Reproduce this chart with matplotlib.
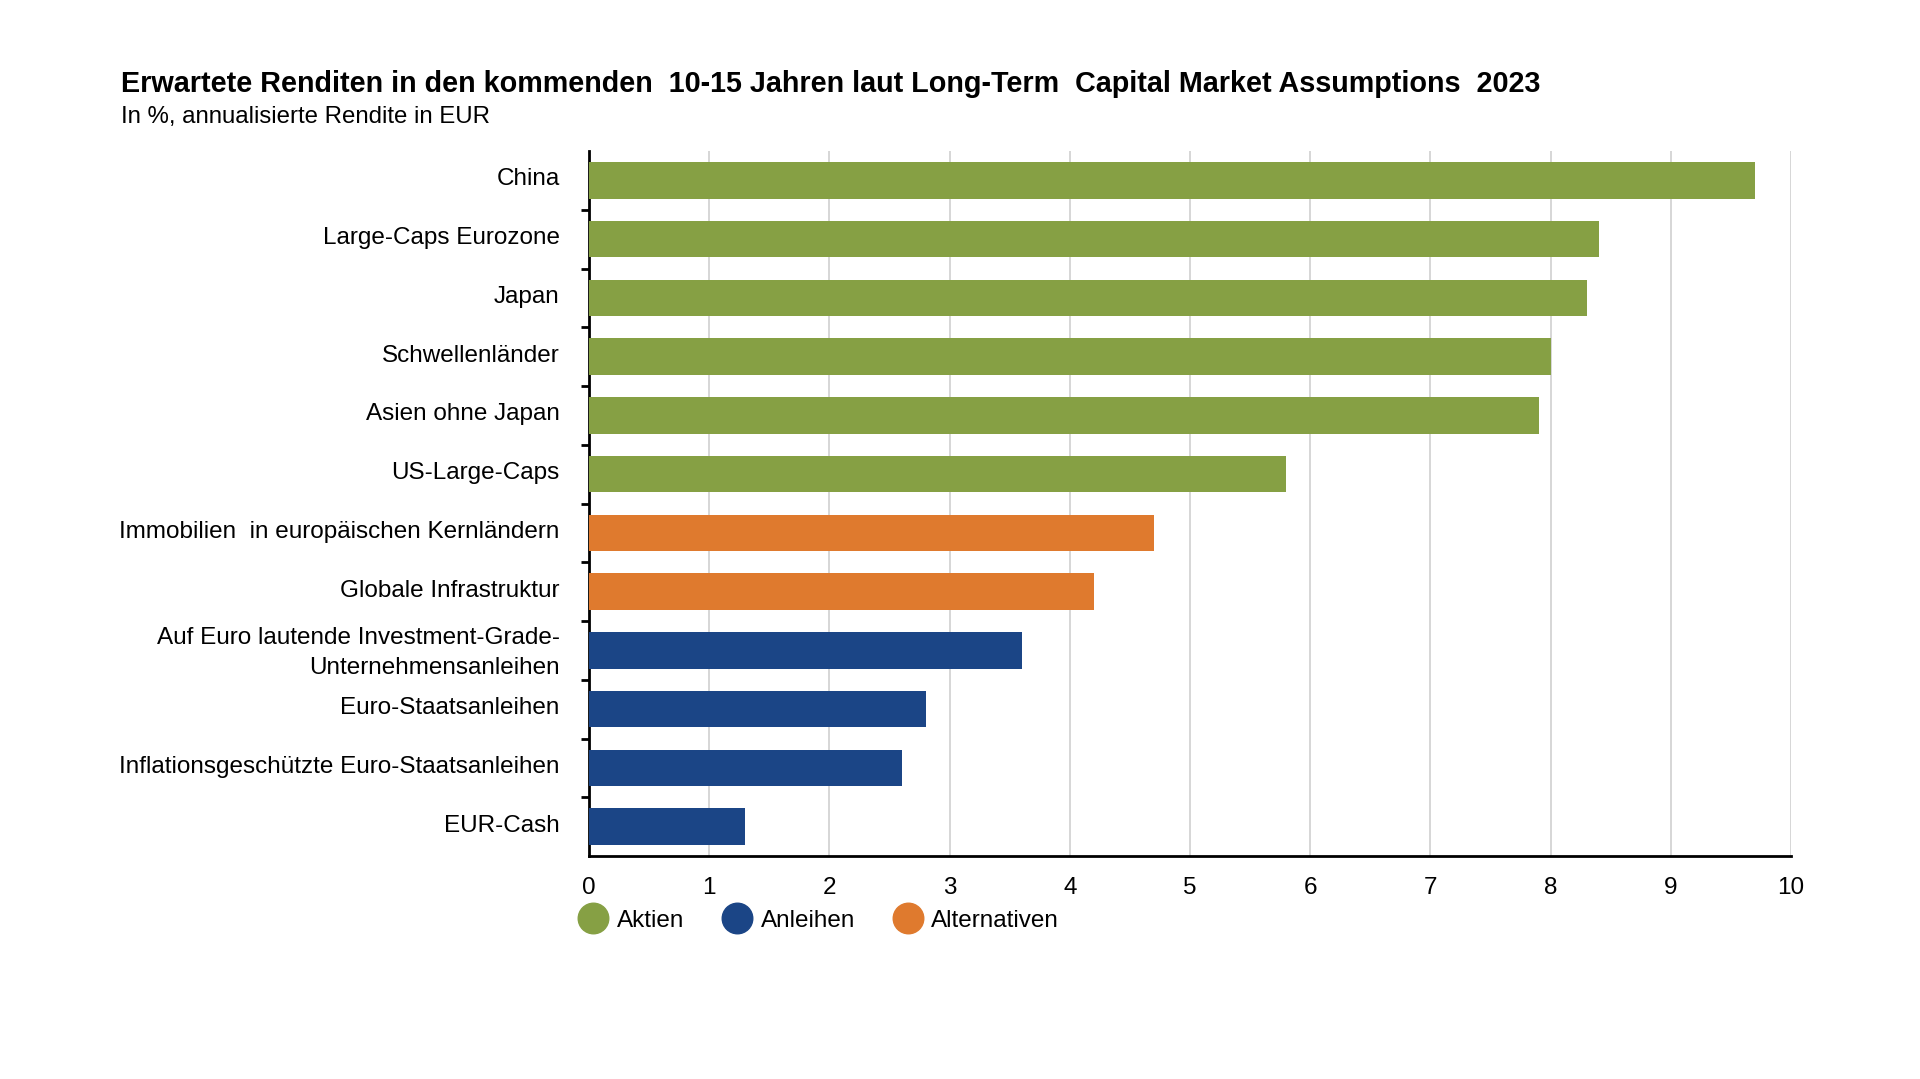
import matplotlib.pyplot as plt
from matplotlib.lines import Line2D
import numpy as np

plt.rcParams['font.family'] = ['Liberation Sans', 'DejaVu Sans']

# Data
categories = ['China', 'Large-Caps Eurozone', 'Japan', 'Schwellenländer',
              'Asien ohne Japan', 'US-Large-Caps',
              'Immobilien  in europäischen Kernländern', 'Globale Infrastruktur',
              'Auf Euro lautende Investment-Grade-\nUnternehmensanleihen',
              'Euro-Staatsanleihen', 'Inflationsgeschützte Euro-Staatsanleihen',
              'EUR-Cash']
values = [9.7, 8.4, 8.3, 8.0, 7.9, 5.8, 4.7, 4.2, 3.6, 2.8, 2.6, 1.3]
groups = ['Aktien'] * 6 + ['Alternativen'] * 2 + ['Anleihen'] * 4
colors = {'Aktien': '#86a044', 'Anleihen': '#1b4586', 'Alternativen': '#df7a2e'}
legend_order = ['Aktien', 'Anleihen', 'Alternativen']

fig = plt.figure(figsize=(19.2, 10.79), dpi=100)
ax = fig.add_axes([589 / 1920, 1 - 856 / 1079, (1791 - 589) / 1920, (856 - 151) / 1079])

y = np.arange(len(categories))
ax.barh(y, values, height=0.62, color=[colors[g] for g in groups], zorder=3)
ax.set_ylim(len(categories) - 0.5, -0.5)
ax.set_xlim(0, 10)

ax.set_yticks(y - 0.06)
ax.set_yticklabels(categories, fontsize=17.5, linespacing=1.45)
ax.tick_params(axis='y', which='major', length=0, pad=21)
ax.set_yticks(np.arange(0.5, len(categories) - 1, 1), minor=True)
ax.tick_params(axis='y', which='minor', length=6, width=2, color='black')

ax.set_xticks(range(11))
ax.tick_params(axis='x', length=0, labelsize=17.5, pad=15)
ax.grid(axis='x', color='#d0d0d0', linewidth=1.2, zorder=0)

for s in ['top', 'right']:
    ax.spines[s].set_visible(False)
ax.spines['left'].set_linewidth(2)
ax.spines['bottom'].set_linewidth(2)

fig.text(121 / 1920, 1 - 84 / 1079, 'Erwartete Renditen in den kommenden  10-15 Jahren laut Long-Term  Capital Market Assumptions  2023',
         fontsize=20.7, fontweight='bold', va='center')
fig.text(121 / 1920, 1 - 117 / 1079, 'In %, annualisierte Rendite in EUR', fontsize=17.3, va='center')

handles = [Line2D([0], [0], marker='o', linestyle='', markersize=22,
                  markerfacecolor=colors[g], markeredgecolor=colors[g]) for g in legend_order]
fig.legend(handles, legend_order, loc='center left', bbox_to_anchor=(557 / 1920, 1 - 921 / 1079),
           ncol=3, frameon=False, fontsize=17.5, handletextpad=0.35, columnspacing=1.6,
           handlelength=1.2)

plt.savefig('out.png', dpi=100)
